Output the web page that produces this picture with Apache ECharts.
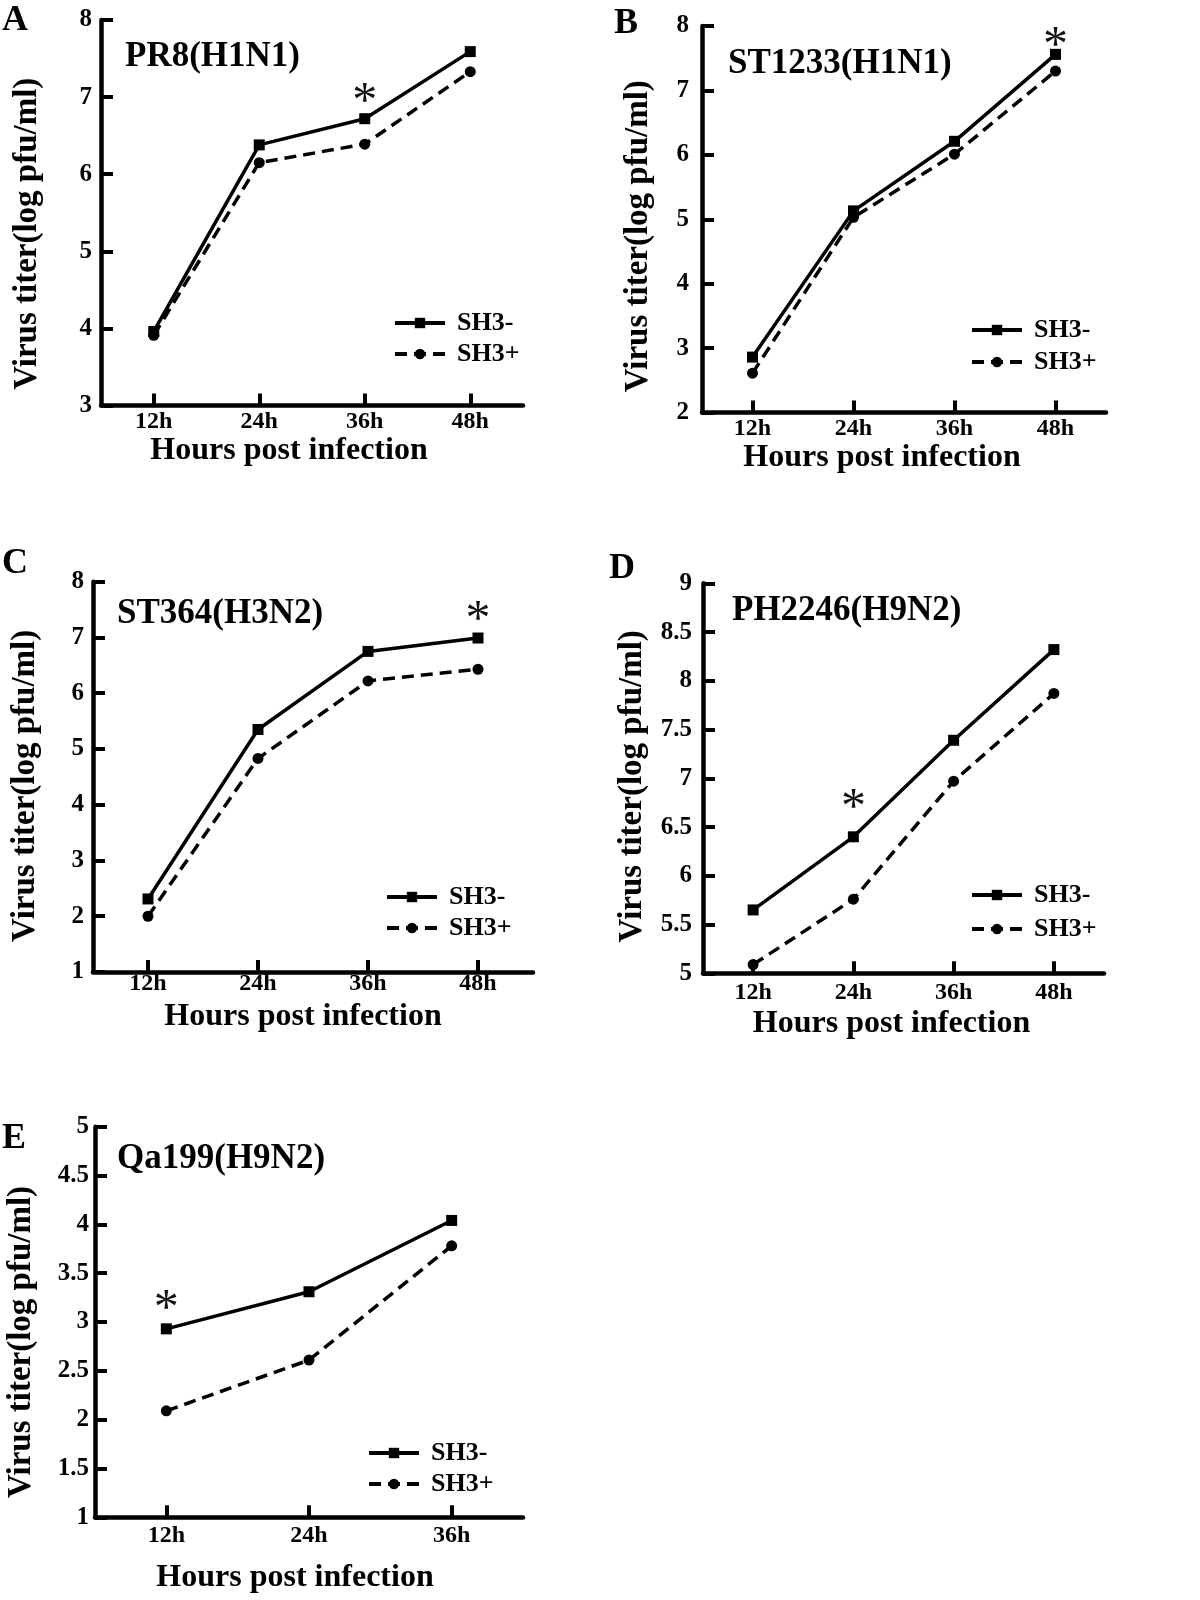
<!DOCTYPE html>
<html><head><meta charset="utf-8">
<script src="https://cdn.jsdelivr.net/npm/echarts@6/dist/echarts.min.js"></script>
<style>html,body{margin:0;padding:0;background:#fff}#c{width:1200px;height:1600px}</style>
</head><body><div id="c"></div>
<script>
// ---- data ----
const hours4 = ['12h', '24h', '36h', '48h'];
const hours3 = ['12h', '24h', '36h'];
const panelLetters = ['A', 'B', 'C', 'D', 'E'];
const panelTitles = ['PR8(H1N1)', 'ST1233(H1N1)', 'ST364(H3N2)', 'PH2246(H9N2)', 'Qa199(H9N2)'];
const seriesNames = ['SH3-', 'SH3+'];
const xTitle = 'Hours post infection';
const yTitle = 'Virus titer(log pfu/ml)';
const pr8Minus = [3.96, 6.38, 6.72, 7.59];
const pr8Plus = [3.91, 6.15, 6.39, 7.33];
const st1233Minus = [2.86, 5.13, 6.21, 7.56];
const st1233Plus = [2.61, 5.03, 6.01, 7.30];
const st364Minus = [2.31, 5.35, 6.75, 6.99];
const st364Plus = [2.00, 4.83, 6.22, 6.43];
const ph2246Minus = [5.65, 6.40, 7.39, 8.32];
const ph2246Plus = [5.09, 5.76, 6.97, 7.87];
const qa199Minus = [2.93, 3.31, 4.04];
const qa199Plus = [2.09, 2.61, 3.78];
const yMins = [3, 2, 1, 5, 1];
const yMaxs = [8, 8, 8, 9, 5];
const ySteps = [1, 1, 1, 0.5, 0.5];
const starIndex = [2, 3, 3, 1, 0];   // time point marked with *

const panelCats = [hours4, hours4, hours4, hours4, hours3];
const panelMinus = [pr8Minus, st1233Minus, st364Minus, ph2246Minus, qa199Minus];
const panelPlus = [pr8Plus, st1233Plus, st364Plus, ph2246Plus, qa199Plus];

// ---- layout (positions / sizes) ----
const L = [
  {grid: {left: 101, top: 20, width: 422, height: 385.5}, yLM: 9, xLM: 4, xNG: 25, xShift: 23, yNG: 57, yShift: 21, title: [125, 39], legend: [393, 310, 5], letter: [2, 3], starDy: 15.5},
  {grid: {left: 702, top: 26, width: 404, height: 386.5}, yLM: 13, xLM: 4, xNG: 28, xShift: 22, yNG: 47, yShift: 17, title: [728, 46], legend: [970, 317, 6], letter: [614, 6], starDy: 7},
  {grid: {left: 93, top: 581.7, width: 440, height: 390.3}, yLM: 9, xLM: 0, xNG: 29, xShift: 10, yNG: 51, yShift: 9, title: [117, 596], legend: [385, 884, 5], letter: [2, 546], starDy: 17.5},
  {grid: {left: 703, top: 583.3, width: 401, height: 390}, yLM: 11, xLM: 7, xNG: 34, xShift: 12, yNG: 54, yShift: 8, title: [732, 593], legend: [970, 882, 8], letter: [609, 551], starDy: 27.5},
  {grid: {left: 95, top: 1126.7, width: 428, height: 390.6}, yLM: 6, xLM: 6, xNG: 44, xShift: 14, yNG: 57, yShift: 20, title: [117, 1141], legend: [367, 1440, 5], letter: [2, 1121], starDy: 19}
];

const FONT = 'Liberation Serif';
const BLACK = '#000';

const option = {
  animation: false,
  backgroundColor: '#fff',
  textStyle: {fontFamily: FONT, color: BLACK},
  grid: L.map(p => Object.assign({containLabel: false}, p.grid)),
  title: panelTitles.map((t, i) => ({
    text: t, left: L[i].title[0], top: L[i].title[1], padding: 0,
    textStyle: {fontFamily: FONT, fontSize: 35, fontWeight: 'bold', color: BLACK}
  })),
  legend: L.map(p => ({
    data: seriesNames, orient: 'vertical', left: p.legend[0], top: p.legend[1], padding: 0,
    itemWidth: 50, itemHeight: 13, itemGap: p.legend[2], selectedMode: false,
    lineStyle: {width: 4},
    textStyle: {fontFamily: FONT, fontSize: 26, fontWeight: 'bold', color: BLACK, lineHeight: 25, padding: [0, 0, 0, 7]}
  })),
  xAxis: panelCats.map((cats, i) => ({
    type: 'category', gridIndex: i, data: cats, boundaryGap: true,
    axisLine: {show: true, lineStyle: {color: BLACK, width: 4.5}},
    axisTick: {show: true, alignWithLabel: true, inside: true, length: 12, lineStyle: {color: BLACK, width: 4}},
    axisLabel: {fontFamily: FONT, fontSize: 24, fontWeight: 'bold', color: BLACK, margin: L[i].xLM},
    splitLine: {show: false},
    name: xTitle, nameLocation: 'middle', nameGap: L[i].xNG,
    nameTextStyle: {fontFamily: FONT, fontSize: 32, fontWeight: 'bold', color: BLACK, padding: [0, 2 * L[i].xShift, 0, 0]}
  })),
  yAxis: yMins.map((mn, i) => ({
    type: 'value', gridIndex: i, min: mn, max: yMaxs[i], interval: ySteps[i],
    axisLine: {show: true, lineStyle: {color: BLACK, width: 4.5}},
    axisTick: {show: true, inside: true, length: 12, lineStyle: {color: BLACK, width: 4}},
    axisLabel: {fontFamily: FONT, fontSize: 25, fontWeight: 'bold', color: BLACK, margin: L[i].yLM},
    splitLine: {show: false},
    name: yTitle, nameLocation: 'middle', nameGap: L[i].yNG,
    nameTextStyle: {fontFamily: FONT, fontSize: 33, fontWeight: 'bold', color: BLACK, padding: [0, 2 * L[i].yShift, 0, 0]}
  })),
  graphic: panelLetters.map((t, i) => ({
    type: 'text', left: L[i].letter[0], top: L[i].letter[1],
    style: {text: t, font: 'bold 36px "Liberation Serif"', fill: BLACK}
  })),
  series: []
};

panelMinus.forEach((vals, i) => {
  option.series.push({
    name: seriesNames[0], type: 'line', xAxisIndex: i, yAxisIndex: i,
    symbol: 'rect', symbolSize: 11, showAllSymbol: true,
    lineStyle: {color: BLACK, width: 3.5, type: 'solid'},
    itemStyle: {color: BLACK},
    label: {show: false},
    data: vals.map((v, j) => j === starIndex[i] ? {
      value: v,
      label: {show: true, formatter: '*', position: 'inside', offset: [0, -L[i].starDy],
        fontFamily: FONT, fontSize: 50, fontWeight: 'normal', color: '#111'}
    } : v)
  });
  option.series.push({
    name: seriesNames[1], type: 'line', xAxisIndex: i, yAxisIndex: i,
    symbol: 'circle', symbolSize: 11, showAllSymbol: true,
    lineStyle: {color: BLACK, width: 3.5, type: [12, 7]},
    itemStyle: {color: BLACK},
    data: panelPlus[i]
  });
});

const chart = echarts.init(document.getElementById('c'), null, {renderer: 'canvas'});
chart.setOption(option);
</script>
</body></html>
